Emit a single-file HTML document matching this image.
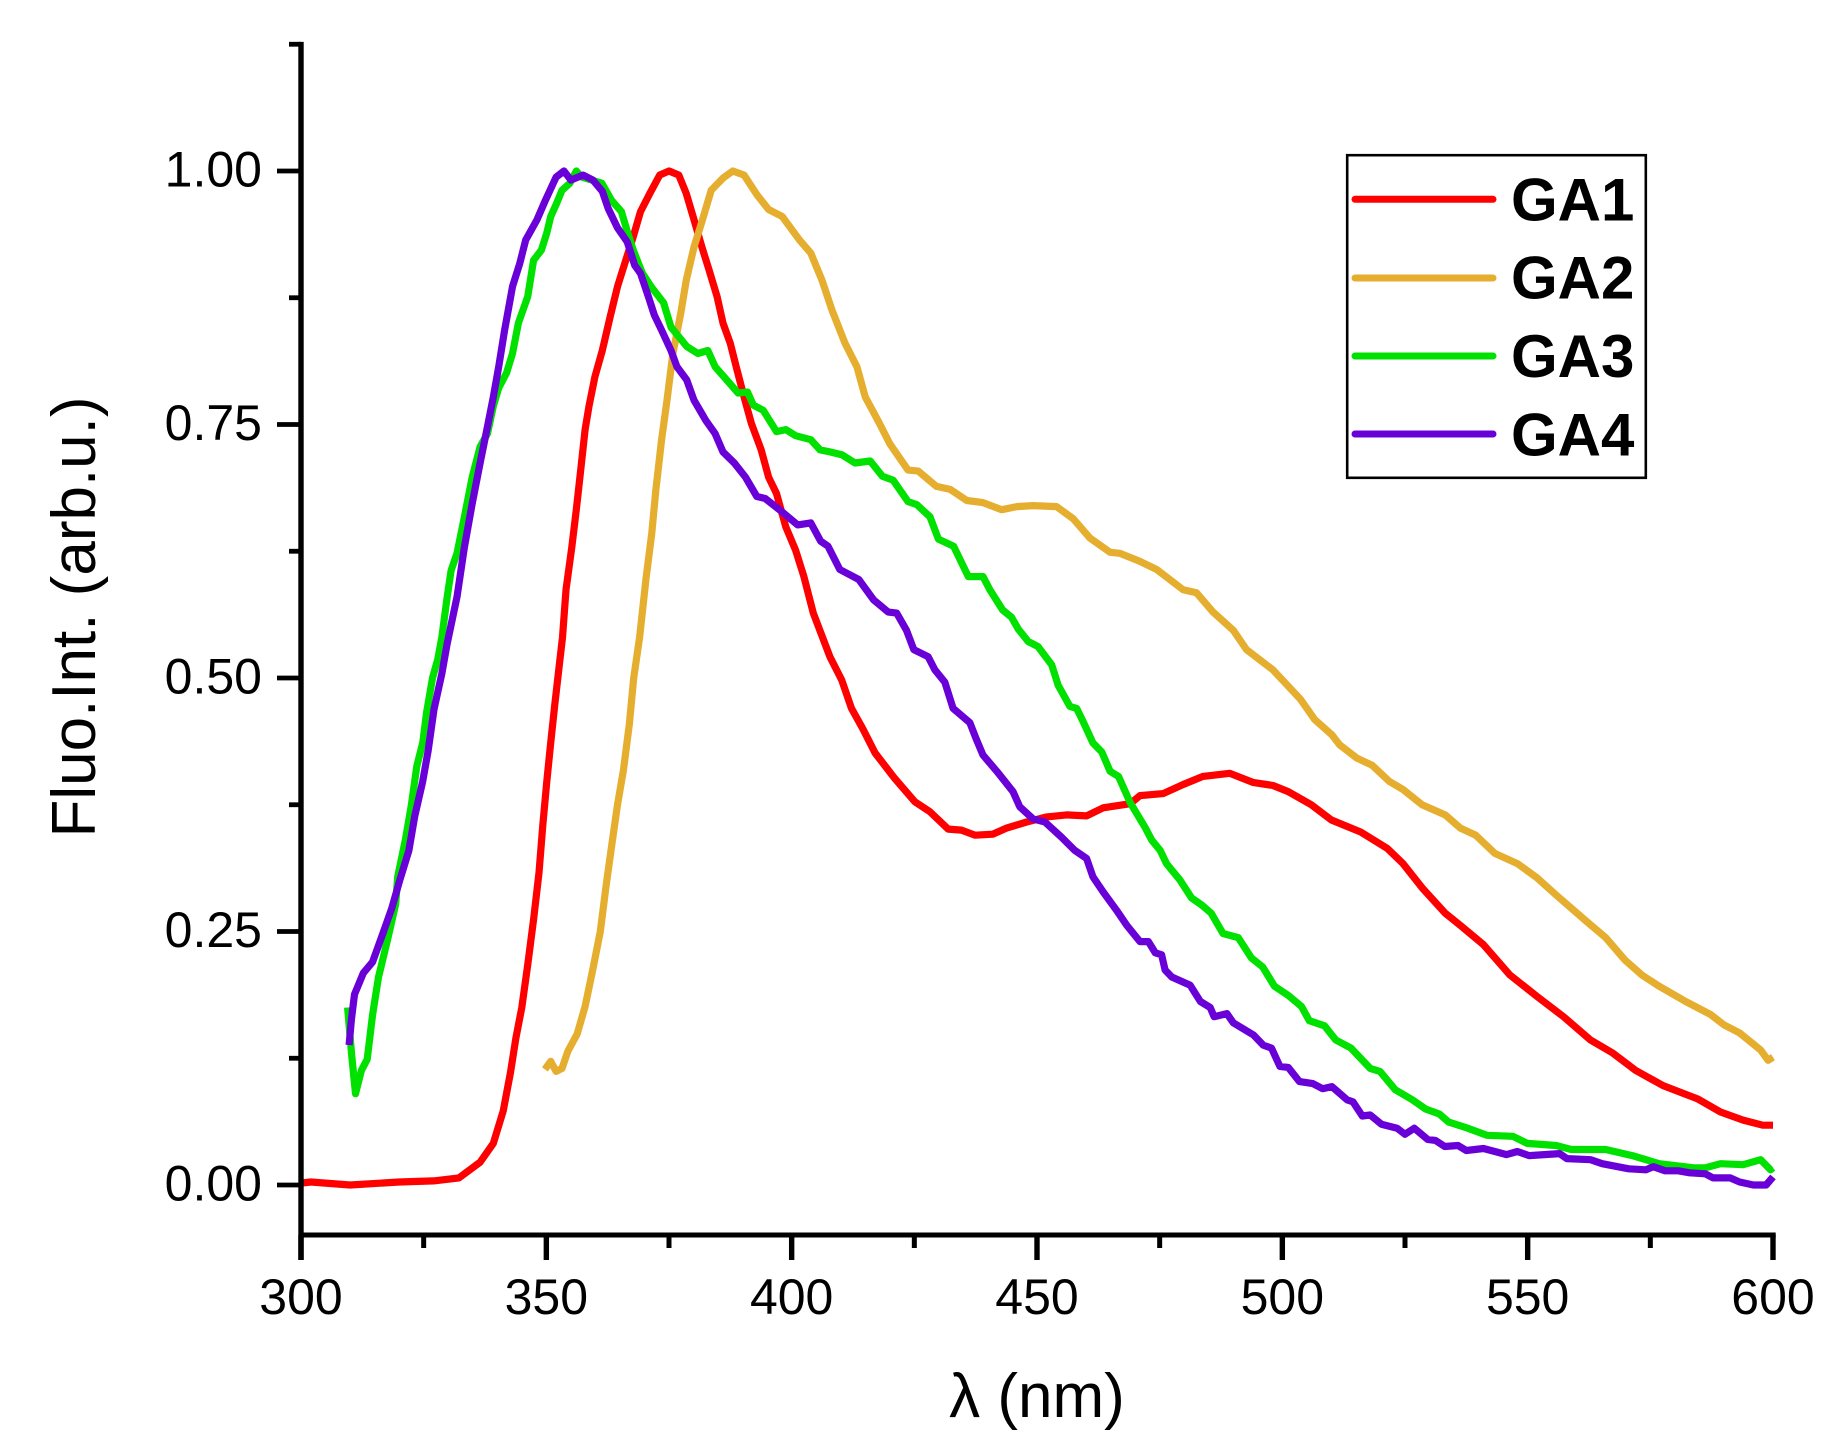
<!DOCTYPE html>
<html lang="en">
<head>
<meta charset="utf-8">
<title>Fluorescence spectra GA1–GA4</title>
<style>
html,body{margin:0;padding:0;background:#fff;}
svg{display:block;font-family:"Liberation Sans",Arial,sans-serif;}
</style>
</head>
<body>
<svg id="chart" xmlns="http://www.w3.org/2000/svg" width="1841" height="1449" viewBox="0 0 1841 1449">
  <rect x="0" y="0" width="1841" height="1449" fill="#fff"/>
  <g id="series-layer" fill="none" stroke-width="7.2" stroke-linejoin="round" stroke-linecap="butt"></g>
  <g id="axis-layer"></g>
  <text transform="translate(95,617) rotate(-90)" text-anchor="middle" font-size="62" fill="#000">Fluo.Int. (arb.u.)</text>
  <text x="1037" y="1417" text-anchor="middle" font-size="62" fill="#000">λ (nm)</text>
  <g>
    <rect x="1347.2" y="155.2" width="298.6" height="322.6" fill="#fff" stroke="#000" stroke-width="2.6"/>
    <g>
      <line x1="1355" y1="199.3" x2="1493" y2="199.3" stroke="#ff0000" stroke-width="7" stroke-linecap="round"/>
      <text x="1511" y="220.7" font-size="60" font-weight="700" fill="#000">GA1</text>
    </g>
    <g>
      <line x1="1355" y1="278" x2="1493" y2="278" stroke="#e5ae2f" stroke-width="7" stroke-linecap="round"/>
      <text x="1511" y="298.5" font-size="60" font-weight="700" fill="#000">GA2</text>
    </g>
    <g>
      <line x1="1355" y1="356" x2="1493" y2="356" stroke="#00e100" stroke-width="7" stroke-linecap="round"/>
      <text x="1511" y="377" font-size="60" font-weight="700" fill="#000">GA3</text>
    </g>
    <g>
      <line x1="1355" y1="434" x2="1493" y2="434" stroke="#6a00d8" stroke-width="7" stroke-linecap="round"/>
      <text x="1511" y="455.5" font-size="60" font-weight="700" fill="#000">GA4</text>
    </g>
  </g>
</svg>
<script>
const xMajorTicks = [300, 350, 400, 450, 500, 550, 600];
const xMinorTicks = [325, 375, 425, 475, 525, 575];
const yMajorTicks = [0, 0.25, 0.5, 0.75, 1];
const yMajorLabels = ['0.00', '0.25', '0.50', '0.75', '1.00'];
const yMinorTicks = [0.125, 0.375, 0.625, 0.875, 1.125];

const ga1Wavelengths = [300.2,302,310,320,327,332.2,336.5,339.2,341.2,342.7,343.8,345,346.2,347.4,348.5,349.3,350.1,350.9,351.7,352.6,353.3,354,355.2,356.1,357,357.9,358.7,359.9,361.4,363,364.5,366,367.7,369.2,371.1,373.1,375,377,378.5,380.1,381.7,383.2,384.8,386,387.5,388.7,390.3,391.8,393.8,395.3,396.9,398.8,400.8,402.5,404.4,407.8,410.2,412.2,414.5,417,421,425.1,428.2,431.9,434.6,437.4,441,443.8,447.9,452,456,460.1,463.5,469,471,475.7,479.8,483.8,489.3,494,498.1,501.2,505.9,510,516,521.4,524.6,528.5,533.2,536.3,541,546.4,551.9,557.3,562.8,567.4,572,577.6,584.6,589.3,593.9,597.9,600];
const ga1Values = [0.002,0.003,0,0.003,0.004,0.007,0.0225,0.041,0.073,0.111,0.145,0.175,0.217,0.262,0.308,0.356,0.398,0.436,0.473,0.511,0.54,0.587,0.629,0.666,0.705,0.745,0.768,0.797,0.823,0.856,0.886,0.909,0.935,0.96,0.978,0.996,1,0.996,0.978,0.952,0.925,0.902,0.876,0.85,0.83,0.807,0.777,0.751,0.725,0.698,0.682,0.649,0.626,0.6,0.564,0.521,0.498,0.47,0.45,0.426,0.401,0.378,0.368,0.351,0.35,0.345,0.346,0.352,0.358,0.363,0.365,0.364,0.372,0.376,0.384,0.386,0.395,0.403,0.406,0.397,0.394,0.388,0.375,0.36,0.348,0.332,0.317,0.293,0.268,0.256,0.237,0.207,0.186,0.166,0.143,0.13,0.113,0.098,0.085,0.072,0.064,0.059,0.059];

const ga2Wavelengths = [349.7,350.9,352,353.2,354.4,356.3,357.9,359.5,361,362.2,363.3,364.5,365.7,366.9,367.8,369,370.3,371.5,372.3,373.5,374.6,375.8,377.4,378.5,380.1,381.7,383.6,386,388,390.3,393,395.3,398.1,401.6,403.9,406.2,408.2,410.9,413.3,415,417.8,420,423.7,425.8,429.5,432.3,435.7,439,442.8,445.9,449.2,454,457.4,460.8,464.9,466.9,471,474.4,479.8,482.5,485.9,490,492.7,498.1,503.7,506.6,510.1,511.7,515.2,518.3,521.8,524.6,528.5,533.2,536.3,539.4,543.3,547.9,551.9,555.8,562,565.9,569.8,573.3,576.8,582.2,587.3,590,593.2,597.5,599,600];
const ga2Values = [0.114,0.122,0.112,0.115,0.132,0.149,0.176,0.213,0.25,0.296,0.334,0.375,0.409,0.454,0.5,0.54,0.597,0.643,0.685,0.735,0.774,0.82,0.86,0.892,0.925,0.95,0.981,0.993,1,0.996,0.976,0.962,0.955,0.932,0.919,0.892,0.863,0.83,0.807,0.777,0.752,0.731,0.705,0.704,0.689,0.686,0.675,0.673,0.666,0.669,0.67,0.669,0.657,0.638,0.624,0.623,0.615,0.607,0.587,0.584,0.565,0.547,0.528,0.508,0.479,0.459,0.444,0.434,0.421,0.414,0.398,0.39,0.375,0.365,0.352,0.345,0.327,0.317,0.303,0.286,0.26,0.244,0.222,0.207,0.196,0.181,0.168,0.158,0.15,0.133,0.123,0.126];

const ga3Wavelengths = [309.5,310.3,311.1,312.3,313.5,314.6,315.8,317.7,319.3,319.7,321.3,322.5,323.6,324.8,325.6,326.8,327.9,328.7,329.8,330.6,331.8,333.3,334.9,336.5,338,339.2,340.3,341.9,343.1,344.3,346.2,347.4,349,350.1,350.9,352.1,353.2,354.8,356.1,357.2,361.3,363.3,365.3,366.4,367.7,369.6,371.5,373.9,375.4,378.6,380.9,382.9,384.4,386.4,389.1,391,392.2,394.2,396.9,398.8,400.8,403.9,405.8,407.8,410.3,412.9,416,418.5,420.7,423.7,425.5,428.2,429.9,433,436,439,440.4,443,444.8,446.2,448.2,450.2,453,454.3,456.7,458.1,459.4,461.4,463.2,464.9,466.6,469,472,473.4,475.1,476.4,479.1,481.5,483.6,485.5,487.9,491,493.7,496,498.4,501.2,503.9,505.5,508.6,510.9,514,517.9,519.9,523,526.5,529.2,532,533.9,537.8,541.7,547,549.9,555.8,558.9,565.9,571.3,576.8,583.8,586.2,589.3,593.9,597.5,599.5,600];
const ga3Values = [0.175,0.13,0.09,0.113,0.124,0.168,0.205,0.243,0.277,0.304,0.341,0.375,0.413,0.436,0.466,0.5,0.519,0.54,0.58,0.606,0.623,0.659,0.698,0.728,0.741,0.768,0.786,0.801,0.82,0.85,0.876,0.912,0.922,0.939,0.955,0.968,0.981,0.988,1,0.994,0.988,0.971,0.96,0.942,0.922,0.899,0.885,0.87,0.846,0.827,0.82,0.823,0.807,0.796,0.781,0.782,0.769,0.764,0.743,0.745,0.739,0.735,0.725,0.723,0.72,0.712,0.714,0.699,0.695,0.674,0.671,0.659,0.637,0.63,0.6,0.6,0.587,0.567,0.56,0.548,0.536,0.531,0.513,0.493,0.472,0.47,0.457,0.436,0.427,0.408,0.403,0.377,0.353,0.34,0.33,0.317,0.301,0.283,0.276,0.268,0.248,0.244,0.224,0.215,0.196,0.187,0.176,0.162,0.157,0.143,0.135,0.115,0.112,0.094,0.084,0.075,0.07,0.062,0.056,0.049,0.048,0.041,0.039,0.035,0.035,0.029,0.021,0.017,0.017,0.021,0.02,0.025,0.015,0.017];

const ga4Wavelengths = [309.8,310.3,310.9,312.7,314.6,316.6,318.5,320.1,322,323.2,324.8,325.9,327.1,328.7,329.8,331.8,333.3,334.9,336.5,338,339.2,340.3,341.5,343.1,344.6,345.8,348.1,349.7,352,353.6,355,357.5,359.5,361.4,362.6,364.5,366.5,368,369.2,370.8,372,373.5,375.4,376.6,378.6,380.1,382.5,384.4,386,388.3,390.6,392.9,394.6,398,401.2,403.9,405.9,407.4,409.8,413.7,416.7,419.7,421.4,423.4,424.9,427.8,429.2,431.2,432.9,436.3,437.7,439,441.8,445.1,446.5,449.2,451.6,455,457.7,460.1,461.4,463.5,466.2,468.3,471,472.7,474.1,475.4,476.1,477.5,481.2,483.3,485.3,486.1,488.7,490,494.1,496.1,497.8,499.5,501.2,503.5,506.2,508.2,510.1,513.2,514.4,516.3,517.9,520.2,523.4,525,526.9,529.6,531.2,533.1,535.8,537.5,541,545.7,547.9,550.3,556.5,558,562.8,565.2,570.6,574.1,575.6,578,580.7,583,586.2,587.8,591.3,593.2,596,598.6,600];
const ga4Values = [0.138,0.164,0.188,0.209,0.22,0.247,0.273,0.3,0.33,0.364,0.398,0.428,0.469,0.504,0.534,0.58,0.629,0.672,0.712,0.748,0.777,0.807,0.843,0.886,0.909,0.932,0.952,0.97,0.994,1,0.991,0.996,0.991,0.98,0.963,0.944,0.93,0.907,0.899,0.876,0.858,0.843,0.823,0.807,0.794,0.774,0.754,0.741,0.723,0.712,0.698,0.679,0.677,0.664,0.651,0.653,0.635,0.63,0.607,0.597,0.577,0.565,0.564,0.547,0.528,0.521,0.508,0.496,0.47,0.456,0.439,0.424,0.408,0.388,0.373,0.361,0.358,0.343,0.33,0.322,0.304,0.289,0.271,0.256,0.24,0.24,0.229,0.227,0.212,0.205,0.197,0.181,0.175,0.166,0.169,0.16,0.148,0.138,0.135,0.117,0.116,0.102,0.1,0.095,0.097,0.084,0.082,0.068,0.069,0.06,0.056,0.05,0.056,0.045,0.044,0.038,0.039,0.034,0.036,0.03,0.033,0.029,0.031,0.026,0.025,0.021,0.016,0.015,0.018,0.014,0.014,0.012,0.011,0.007,0.007,0.003,0,0,0.008];

const xDomain = [300, 600];
const yDomain = [0, 1];
const xRangePx = [301, 1773];
const yRangePx = [1185, 171];

function xScale(v) {
  return xRangePx[0] + (v - xDomain[0]) / (xDomain[1] - xDomain[0]) * (xRangePx[1] - xRangePx[0]);
}
function yScale(v) {
  return yRangePx[0] + (v - yDomain[0]) / (yDomain[1] - yDomain[0]) * (yRangePx[1] - yRangePx[0]);
}

const SVG_NS = 'http://www.w3.org/2000/svg';
const seriesLayer = document.getElementById('series-layer');
const axisLayer = document.getElementById('axis-layer');

function drawSeries(xs, ys, color, name) {
  const points = xs.map((x, i) => xScale(x).toFixed(1) + ',' + yScale(ys[i]).toFixed(1)).join(' ');
  const line = document.createElementNS(SVG_NS, 'polyline');
  line.setAttribute('points', points);
  line.setAttribute('stroke', color);
  
  
  seriesLayer.appendChild(line);
}
drawSeries(ga1Wavelengths, ga1Values, '#ff0000', 'series-ga1');
drawSeries(ga2Wavelengths, ga2Values, '#e5ae2f', 'series-ga2');
drawSeries(ga3Wavelengths, ga3Values, '#00e100', 'series-ga3');
drawSeries(ga4Wavelengths, ga4Values, '#6a00d8', 'series-ga4');

function rule(x1, y1, x2, y2, width, name) {
  const l = document.createElementNS(SVG_NS, 'line');
  l.setAttribute('x1', x1);
  l.setAttribute('y1', y1);
  l.setAttribute('x2', x2);
  l.setAttribute('y2', y2);
  l.setAttribute('stroke', '#000');
  l.setAttribute('stroke-width', width);
  
  
  axisLayer.appendChild(l);
}
function label(x, y, text, anchor, name) {
  const t = document.createElementNS(SVG_NS, 'text');
  t.setAttribute('x', x);
  t.setAttribute('y', y);
  t.setAttribute('text-anchor', anchor);
  t.setAttribute('font-size', '50');
  t.setAttribute('fill', '#000');
  
  
  t.textContent = text;
  axisLayer.appendChild(t);
}

const axisYPx = 1235;
const axisXPx = 301;
rule(axisXPx, yScale(1.125) - 2.4, axisXPx, 1260, 5.4, 'y-axis-line');
rule(axisXPx, axisYPx, xScale(600) + 2.7, axisYPx, 5, 'x-axis-line');

xMajorTicks.forEach(function (v) {
  rule(xScale(v), axisYPx, xScale(v), 1260, 5.4, 'x-major-tick-' + v);
  label(xScale(v), 1314, String(v), 'middle', 'x-tick-label-' + v);
});
xMinorTicks.forEach(function (v) {
  rule(xScale(v), axisYPx, xScale(v), 1248, 5, 'x-minor-tick-' + v);
});
yMajorTicks.forEach(function (v, i) {
  rule(277, yScale(v), axisXPx, yScale(v), 4.8, 'y-major-tick-' + yMajorLabels[i]);
  label(262, yScale(v) + 15.5, yMajorLabels[i], 'end', 'y-tick-label-' + yMajorLabels[i]);
});
yMinorTicks.forEach(function (v) {
  rule(289, yScale(v), axisXPx, yScale(v), 4.8, 'y-minor-tick-' + v);
});
</script>
</body>
</html>
